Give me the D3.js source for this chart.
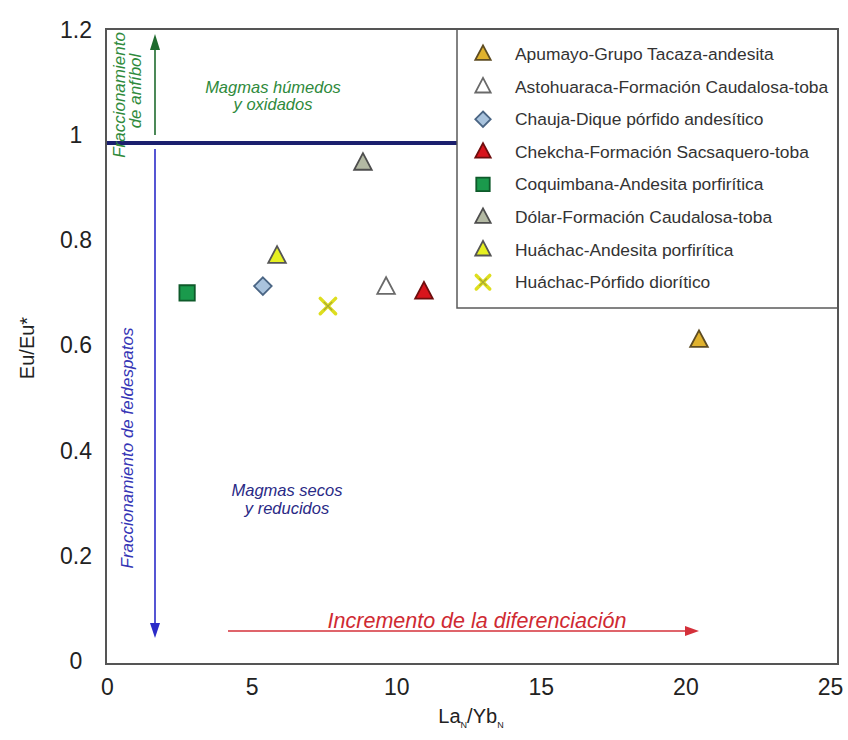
<!DOCTYPE html>
<html>
<head>
<meta charset="utf-8">
<script src="https://cdn.jsdelivr.net/npm/d3@7"></script>
<style>
  html, body { margin: 0; padding: 0; background: #fff; }
  svg { display: block; font-family: "Liberation Sans", Arial, sans-serif; }
</style>
</head>
<body>
<svg id="chart" width="848" height="740"></svg>
<script>
// ---- data ----
const series = [
  "Apumayo-Grupo Tacaza-andesita",
  "Astohuaraca-Formación Caudalosa-toba",
  "Chauja-Dique pórfido andesítico",
  "Chekcha-Formación Sacsaquero-toba",
  "Coquimbana-Andesita porfirítica",
  "Dólar-Formación Caudalosa-toba",
  "Huáchac-Andesita porfirítica",
  "Huáchac-Pórfido diorítico"
];
const laYb  = [20.47, 9.65, 5.39, 10.96, 2.77, 8.85, 5.88, 7.64];
const euEu  = [0.610, 0.711, 0.713, 0.702, 0.700, 0.947, 0.770, 0.675];
const xTicks = [0, 5, 10, 15, 20, 25];
const yTicks = [0, 0.2, 0.4, 0.6, 0.8, 1, 1.2];
const limitEu = 0.985;

// ---- styles ----
const markerStyle = [
  {shape: "tri", fill: "#e0b22e", stroke: "#5e4c22"},
  {shape: "tri", fill: "#ffffff", stroke: "#6a6a6a"},
  {shape: "dia", fill: "#a9c3dd", stroke: "#4a6584"},
  {shape: "tri", fill: "#d8141c", stroke: "#6e0d0d"},
  {shape: "sq",  fill: "#1a9a4c", stroke: "#0e5a2a"},
  {shape: "tri", fill: "#b3b9a3", stroke: "#4e4e4e"},
  {shape: "tri", fill: "#e6f022", stroke: "#555555"},
  {shape: "x",   fill: "none",    stroke: "#dede1e"}
];

const svg = d3.select("#chart");
svg.append("rect").attr("width", 848).attr("height", 740).attr("fill", "#fff");

const x = d3.scaleLinear().domain([0, 25]).range([107, 830]);
const y = d3.scaleLinear().domain([0, 1.2]).range([661, 30]);
const frame = {x0: 106, x1: 838, y0: 29, y1: 664};

svg.append("defs").append("clipPath").attr("id", "clip")
  .append("rect").attr("x", frame.x0).attr("y", frame.y0)
  .attr("width", frame.x1 - frame.x0).attr("height", frame.y1 - frame.y0);

function markerPath(shape, s) {
  if (shape === "tri") {
    return `M0,${-s*0.62} L${s*0.55},${s*0.42} L${-s*0.55},${s*0.42} Z`;
  } else if (shape === "dia") {
    return `M0,${-s*0.55} L${s*0.55},0 L0,${s*0.55} L${-s*0.55},0 Z`;
  } else if (shape === "sq") {
    return `M${-s*0.48},${-s*0.48} h${s*0.96} v${s*0.96} h${-s*0.96} Z`;
  } else {
    const h = s*0.48;
    return `M${-h},${-h} L${h},${h} M${h},${-h} L${-h},${h}`;
  }
}
function drawMarker(g, i, cx, cy, s) {
  const st = markerStyle[i];
  if (st.shape === "x") {
    g.append("path").attr("transform", `translate(${cx},${cy})`)
      .attr("d", markerPath("x", s)).attr("fill", "none")
      .attr("stroke", st.stroke).attr("stroke-width", 3.5).attr("stroke-linecap", "round");
    g.append("path").attr("transform", `translate(${cx},${cy})`)
      .attr("d", markerPath("x", s*0.55)).attr("fill", "none")
      .attr("stroke", "#a8a832").attr("stroke-width", 1.2);
  } else {
    g.append("path").attr("transform", `translate(${cx},${cy})`)
      .attr("d", markerPath(st.shape, s))
      .attr("fill", st.fill).attr("stroke", st.stroke).attr("stroke-width", 1.8)
      .attr("stroke-linejoin", "miter");
  }
}

// ---- annotations ----
const ann = svg.append("g").attr("clip-path", "url(#clip)");

// horizontal dark-blue limit line
ann.append("line")
  .attr("x1", frame.x0).attr("x2", 457)
  .attr("y1", y(limitEu)).attr("y2", y(limitEu))
  .attr("stroke", "#1b1f6e").attr("stroke-width", 4);

// green arrow up
const arrowX = 155;
ann.append("line").attr("x1", arrowX).attr("x2", arrowX)
  .attr("y1", y(limitEu) - 8).attr("y2", 46)
  .attr("stroke", "#1f6b2e").attr("stroke-width", 1.6);
ann.append("path").attr("d", `M${arrowX},34 L${arrowX+5},50 L${arrowX-5},50 Z`).attr("fill", "#1f6b2e");

// blue arrow down
ann.append("line").attr("x1", arrowX).attr("x2", arrowX)
  .attr("y1", y(limitEu) + 6).attr("y2", 626)
  .attr("stroke", "#2b2bc8").attr("stroke-width", 1.6);
ann.append("path").attr("d", `M${arrowX},638 L${arrowX+5},623 L${arrowX-5},623 Z`).attr("fill", "#2b2bc8");

// red arrow right
ann.append("line").attr("x1", 228).attr("x2", 688)
  .attr("y1", 631).attr("y2", 631)
  .attr("stroke", "#d4303a").attr("stroke-width", 1.6);
ann.append("path").attr("d", `M699,631 L685,626 L685,636 Z`).attr("fill", "#d4303a");

// rotated green text
const gt = ann.append("text").attr("transform", "translate(125,95) rotate(-90)")
  .attr("text-anchor", "middle").attr("font-style", "italic").attr("font-size", 17)
  .attr("fill", "#2f8a3c");
gt.append("tspan").attr("x", 0).attr("y", 0).text("Fraccionamiento");
gt.append("tspan").attr("x", 4).attr("y", 16).text("de anfíbol");

// rotated blue text
ann.append("text").attr("transform", "translate(133,448) rotate(-90)")
  .attr("text-anchor", "middle").attr("font-style", "italic").attr("font-size", 17)
  .attr("fill", "#3535b5").text("Fraccionamiento de feldespatos");

// green region label
const gh = ann.append("text").attr("text-anchor", "middle").attr("font-style", "italic")
  .attr("font-size", 16.5).attr("fill", "#2f8a3c");
gh.append("tspan").attr("x", 273).attr("y", 93).text("Magmas húmedos");
gh.append("tspan").attr("x", 273).attr("y", 110).text("y oxidados");

// blue region label
const gb = ann.append("text").attr("text-anchor", "middle").attr("font-style", "italic")
  .attr("font-size", 16.5).attr("fill", "#2a2a86");
gb.append("tspan").attr("x", 287).attr("y", 496).text("Magmas secos");
gb.append("tspan").attr("x", 287).attr("y", 514).text("y reducidos");

// red label
ann.append("text").attr("x", 477).attr("y", 628).attr("text-anchor", "middle")
  .attr("font-style", "italic").attr("font-size", 21.5).attr("fill", "#cf2a32")
  .text("Incremento de la diferenciación");

// ---- points ----
const pts = svg.append("g");
series.forEach((name, i) => {
  drawMarker(pts, i, x(laYb[i]), y(euEu[i]), 16);
});

// ---- legend ----
const leg = svg.append("g");
leg.append("rect").attr("x", 457).attr("y", frame.y0)
  .attr("width", frame.x1 - 457).attr("height", 308 - frame.y0)
  .attr("fill", "#fff").attr("stroke", "#5a5a5a").attr("stroke-width", 1.5);
series.forEach((name, i) => {
  const cy = 54 + i * 32.6;
  drawMarker(leg, i, 483, cy, 14);
  leg.append("text").attr("x", 515).attr("y", cy).attr("dy", "0.35em")
    .attr("font-size", 17.4).attr("fill", "#333").text(name);
});

// ---- frame ----
svg.append("rect").attr("x", frame.x0).attr("y", frame.y0)
  .attr("width", frame.x1 - frame.x0).attr("height", frame.y1 - frame.y0)
  .attr("fill", "none").attr("stroke", "#555").attr("stroke-width", 2);

// ---- axes ----
const xAxis = d3.axisBottom(x).tickValues(xTicks).tickSize(0).tickPadding(0)
  .tickFormat(d3.format("d"));
const gx = svg.append("g").attr("transform", `translate(0,${frame.y1})`).call(xAxis);
gx.select(".domain").remove();
gx.selectAll("text").attr("font-size", 23).attr("fill", "#222")
  .attr("font-family", "Liberation Sans, Arial, sans-serif")
  .attr("y", 15).attr("dy", "0.71em");

const yAxis = d3.axisLeft(y).tickValues(yTicks).tickSize(0).tickPadding(0)
  .tickFormat(d => d === 0 || d === 1 ? String(d) : d3.format(".1f")(d));
const gy = svg.append("g").attr("transform", "translate(76,0)").call(yAxis);
gy.select(".domain").remove();
gy.selectAll("text").attr("font-size", 23).attr("fill", "#222")
  .attr("font-family", "Liberation Sans, Arial, sans-serif")
  .attr("text-anchor", "middle").attr("x", 0);

// axis titles
svg.append("text").attr("transform", "translate(34,348) rotate(-90)")
  .attr("text-anchor", "middle").attr("font-size", 20).attr("fill", "#222")
  .text("Eu/Eu*");

const xt = svg.append("text").attr("x", 471).attr("y", 723).attr("text-anchor", "middle")
  .attr("font-size", 20).attr("fill", "#222");
xt.append("tspan").text("La");
xt.append("tspan").attr("font-size", 9).attr("dy", 5).text("N");
xt.append("tspan").attr("dy", -5).text("/Yb");
xt.append("tspan").attr("font-size", 9).attr("dy", 5).text("N");
</script>
</body>
</html>
